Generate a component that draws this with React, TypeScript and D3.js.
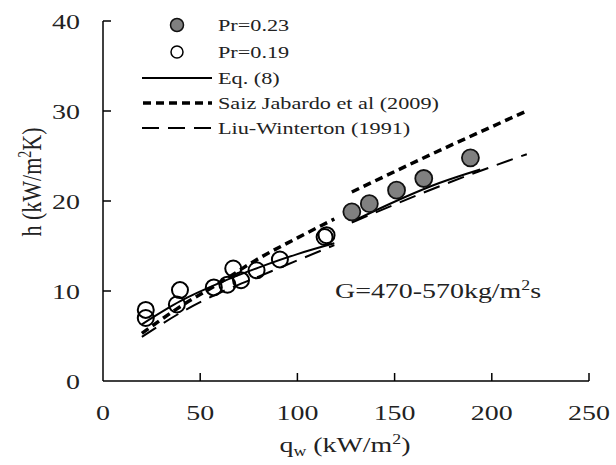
import React from "react";
import * as d3 from "d3";

// Data
const pr023Q = [128, 137, 151, 165, 189];
const pr023H = [18.8, 19.7, 21.2, 22.5, 24.8];

const pr019Q = [22, 22, 39.6, 38, 57, 64, 67, 71, 79, 91, 114, 115];
const pr019H = [7.9, 7.0, 10.1, 8.5, 10.4, 10.7, 12.5, 11.2, 12.3, 13.5, 16.0, 16.2];

const eq8Seg1Q = [20, 40, 60, 80, 100, 119];
const eq8Seg1H = [6.3, 8.9, 10.9, 12.6, 14.1, 15.3];
const eq8Seg2Q = [128, 173, 194];
const eq8Seg2H = [17.7, 22.0, 23.5];

const saizSeg1Q = [20, 40, 60, 80, 100, 119];
const saizSeg1H = [5.3, 8.3, 10.9, 13.6, 15.9, 18.0];
const saizSeg2Q = [128, 170, 218];
const saizSeg2H = [21.0, 25.3, 30.0];

const liuSeg1Q = [20, 40, 60, 80, 100, 119];
const liuSeg1H = [4.9, 7.6, 9.8, 11.6, 13.4, 15.1];
const liuSeg2Q = [128, 175, 218];
const liuSeg2H = [17.6, 21.8, 25.2];

const xTicks = [0, 50, 100, 150, 200, 250];
const yTicks = [0, 10, 20, 30, 40];

const legendLabels = [
  "Pr=0.23",
  "Pr=0.19",
  "Eq. (8)",
  "Saiz Jabardo et al (2009)",
  "Liu-Winterton (1991)",
];

const SX = 1.27; // horizontal stretch of the glyphs in the reference
const FONT = "'Liberation Serif', 'Times New Roman', serif";

export default function App() {
  const x = d3.scaleLinear().domain([0, 250]).range([103, 589]);
  const y = d3.scaleLinear().domain([0, 40]).range([381, 21]);

  const line = d3
    .line<[number, number]>()
    .x((d) => x(d[0]))
    .y((d) => y(d[1]))
    .curve(d3.curveMonotoneX);

  const zip = (q: number[], h: number[]) =>
    q.map((v, i) => [v, h[i]] as [number, number]);

  const solid = { stroke: "#000", strokeWidth: 2, fill: "none" };
  const saiz = {
    stroke: "#000",
    strokeWidth: 3.5,
    fill: "none",
    strokeDasharray: "8,5",
  };
  const liu = {
    stroke: "#000",
    strokeWidth: 2,
    fill: "none",
    strokeDasharray: "17,9",
  };

  const legendY = [25, 52, 78, 103, 128];

  return (
    <svg
      width={616}
      height={465}
      style={{ position: "absolute", left: 0, top: 0, background: "#fff" }}
      fontFamily={FONT}
    >
      {/* axes */}
      <line x1={x(0)} x2={x(250)} y1={y(0)} y2={y(0)} stroke="#000" strokeWidth={1.5} />
      <line x1={x(0)} x2={x(0)} y1={y(0)} y2={y(40)} stroke="#000" strokeWidth={1.5} />
      {xTicks.map((t) => (
        <g key={"xt" + t}>
          {t > 0 && (
            <line x1={x(t)} x2={x(t)} y1={y(0)} y2={y(0) - 8} stroke="#000" strokeWidth={1.5} />
          )}
          <text
            transform={`translate(${x(t)},${420}) scale(${SX},1)`}
            textAnchor="middle"
            fontSize={22}
            fill="#222"
          >
            {t}
          </text>
        </g>
      ))}
      {yTicks.map((t) => (
        <g key={"yt" + t}>
          {t > 0 && (
            <line x1={x(0)} x2={x(0) + 8} y1={y(t)} y2={y(t)} stroke="#000" strokeWidth={1.5} />
          )}
          <text
            transform={`translate(${80},${y(t) + 8}) scale(${SX},1)`}
            textAnchor="end"
            fontSize={22}
            fill="#222"
          >
            {t}
          </text>
        </g>
      ))}

      {/* axis titles */}
      <text
        transform={`translate(${345},${452}) scale(${SX},1)`}
        textAnchor="middle"
        fontSize={22}
        fill="#222"
      >
        q<tspan fontSize={14} dy={4}>w</tspan>
        <tspan dy={-4}> (kW/m</tspan>
        <tspan fontSize={14} dy={-8}>2</tspan>
        <tspan dy={8}>)</tspan>
      </text>
      <text
        transform={`translate(${41},${182}) scale(${SX},1) rotate(-90)`}
        textAnchor="middle"
        fontSize={22}
        fill="#222"
      >
        h  (kW/m<tspan fontSize={14} dy={-8}>2</tspan>
        <tspan dy={8}>K)</tspan>
      </text>

      {/* annotation */}
      <text
        transform={`translate(${335},${298}) scale(${SX},1)`}
        fontSize={22}
        fill="#222"
      >
        G=470-570kg/m<tspan fontSize={14} dy={-8}>2</tspan>
        <tspan dy={8}>s</tspan>
      </text>

      {/* correlation lines */}
      <path d={line(zip(liuSeg1Q, liuSeg1H)) || ""} style={liu} />
      <path d={line(zip(liuSeg2Q, liuSeg2H)) || ""} style={liu} />
      <path d={line(zip(saizSeg1Q, saizSeg1H)) || ""} style={saiz} />
      <path d={line(zip(saizSeg2Q, saizSeg2H)) || ""} style={saiz} />
      <path d={line(zip(eq8Seg1Q, eq8Seg1H)) || ""} style={solid} />
      <path d={line(zip(eq8Seg2Q, eq8Seg2H)) || ""} style={solid} />

      {/* data points */}
      {pr019Q.map((q, i) => (
        <circle
          key={"o" + i}
          cx={x(q)}
          cy={y(pr019H[i])}
          r={8}
          fill="none"
          stroke="#000"
          strokeWidth={2}
        />
      ))}
      {pr023Q.map((q, i) => (
        <circle
          key={"f" + i}
          cx={x(q)}
          cy={y(pr023H[i])}
          r={8.5}
          fill="#808080"
          stroke="#111"
          strokeWidth={1.8}
        />
      ))}

      {/* legend */}
      <circle cx={177} cy={legendY[0]} r={6.5} fill="#808080" stroke="#111" strokeWidth={1.5} />
      <circle cx={177} cy={legendY[1]} r={6} fill="#fff" stroke="#000" strokeWidth={1.5} />
      <line x1={142} x2={212} y1={legendY[2]} y2={legendY[2]} style={solid} />
      <line x1={143} x2={212} y1={legendY[3]} y2={legendY[3]} style={saiz} />
      <line x1={142} x2={212} y1={legendY[4]} y2={legendY[4]} style={liu} />
      {legendLabels.map((l, i) => (
        <text
          key={"lg" + i}
          transform={`translate(${218},${legendY[i] + 6}) scale(${SX},1)`}
          fontSize={17.5}
          fill="#222"
        >
          {l}
        </text>
      ))}
    </svg>
  );
}
